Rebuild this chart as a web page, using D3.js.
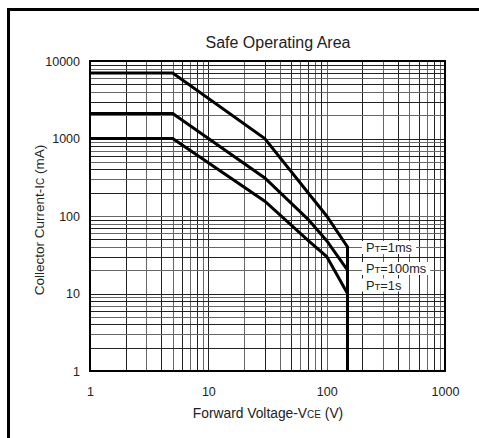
<!DOCTYPE html>
<html>
<head>
<meta charset="utf-8">
<script src="https://cdn.jsdelivr.net/npm/d3@7"></script>
<style>
  html, body { margin: 0; padding: 0; background: #fff; }
  svg text { font-family: "Liberation Sans", Arial, sans-serif; fill: #222; }
</style>
</head>
<body>
<svg id="soa" width="479" height="438"></svg>
<script>
// 곡선 데이터 (Vce V, Ic mA)
const vce1ms = [1, 5, 30, 100, 150, 150];
const ic1ms = [7000, 7000, 1000, 100, 40, 1];
const vce100ms = [1, 5, 30, 70, 100, 150];
const ic100ms = [2100, 2100, 310, 90, 48, 20];
const vce1s = [1, 5, 30, 70, 100, 150];
const ic1s = [1000, 1000, 155, 48, 30, 10];

const xTickLabels = [1, 10, 100, 1000];
const yTickLabels = [1, 10, 100, 1000, 10000];
const legendLabels = [
  { p: "P", s: "T", t: "=1ms" },
  { p: "P", s: "T", t: "=100ms" },
  { p: "P", s: "T", t: "=1s" }
];

const svg = d3.select("#soa");
const W = 479, H = 438;
const L = 90, R = 445, T = 61, B = 371;

// 바깥 테두리 (왼쪽 + 위)
svg.append("path")
  .attr("d", `M8.5,${H} L8.5,9.5 L${W},9.5`)
  .attr("fill", "none")
  .attr("stroke", "#000")
  .attr("stroke-width", 3);

const x = d3.scaleLog().domain([1, 1000]).range([L, R]);
const y = d3.scaleLog().domain([1, 10000]).range([B, T]);

const snap = v => Math.round(v) + 0.5;

// 그리드
const grid = svg.append("g").attr("shape-rendering", "crispEdges");
grid.selectAll("line.vx")
  .data(x.ticks())
  .enter().append("line")
  .attr("x1", d => snap(x(d))).attr("x2", d => snap(x(d)))
  .attr("y1", T).attr("y2", B)
  .attr("stroke", (d, i) => i % 2 ? "#222" : "#666")
  .attr("stroke-width", 1);
grid.selectAll("line.hy")
  .data(y.ticks())
  .enter().append("line")
  .attr("y1", d => snap(y(d))).attr("y2", d => snap(y(d)))
  .attr("x1", L).attr("x2", R)
  .attr("stroke", (d, i) => i % 2 ? "#222" : "#666")
  .attr("stroke-width", 1);

// 플롯 테두리
svg.append("rect")
  .attr("x", L).attr("y", T)
  .attr("width", R - L).attr("height", B - T)
  .attr("fill", "none")
  .attr("stroke", "#000")
  .attr("stroke-width", 2);

// 곡선
const line = d3.line().x(d => x(d[0])).y(d => y(d[1]));
const series = [
  d3.zip(vce1ms, ic1ms),
  d3.zip(vce100ms, ic100ms),
  d3.zip(vce1s, ic1s)
];
svg.selectAll("path.curve")
  .data(series)
  .enter().append("path")
  .attr("class", "curve")
  .attr("d", line)
  .attr("fill", "none")
  .attr("stroke", "#000")
  .attr("stroke-width", 3)
  .attr("stroke-linejoin", "miter");

// 축 눈금 라벨
const xAxis = d3.axisBottom(x).tickValues(xTickLabels).tickSize(0).tickPadding(0)
  .tickFormat(d3.format("d"));
const gx = svg.append("g").attr("transform", `translate(0,${B + 16})`).call(xAxis);
gx.select(".domain").remove();
gx.selectAll("text").attr("font-size", 12.5).attr("fill", "#222")
  .attr("font-family", "Liberation Sans, Arial, sans-serif");

const yAxis = d3.axisLeft(y).tickValues(yTickLabels).tickSize(0).tickPadding(10)
  .tickFormat(d3.format("d"));
const gy = svg.append("g").attr("transform", `translate(${L},0)`).call(yAxis);
gy.select(".domain").remove();
gy.selectAll("text").attr("font-size", 12.5).attr("fill", "#222")
  .attr("font-family", "Liberation Sans, Arial, sans-serif");

// 제목
svg.append("text")
  .attr("x", 278).attr("y", 48)
  .attr("text-anchor", "middle")
  .attr("font-size", 16)
  .text("Safe Operating Area");

// x축 제목
const xt = svg.append("text")
  .attr("x", 268).attr("y", 418)
  .attr("text-anchor", "middle")
  .attr("font-size", 13.8);
xt.append("tspan").text("Forward Voltage-V");
xt.append("tspan").attr("font-size", 10).text("CE");
xt.append("tspan").text(" (V)");

// y축 제목
const yt = svg.append("text")
  .attr("transform", "translate(44,220) rotate(-90)")
  .attr("text-anchor", "middle")
  .attr("font-size", 13.5);
yt.append("tspan").text("Collector Current-I");
yt.append("tspan").attr("font-size", 10).text("C");
yt.append("tspan").text(" (mA)");

// 범례 라벨 (흰 배경)
const legendY = [252, 273, 289.5];
legendLabels.forEach((lb, i) => {
  const g = svg.append("g");
  const bg = g.append("rect").attr("fill", "#fff");
  const t = g.append("text")
    .attr("x", 366).attr("y", legendY[i])
    .attr("font-size", 12.8);
  t.append("tspan").text(lb.p);
  t.append("tspan").attr("font-size", 9.5).text(lb.s);
  t.append("tspan").text(lb.t);
  const bb = t.node().getBBox();
  bg.attr("x", bb.x - 4).attr("y", bb.y + 1)
    .attr("width", bb.width + 8).attr("height", bb.height - 2);
});
</script>
</body>
</html>
